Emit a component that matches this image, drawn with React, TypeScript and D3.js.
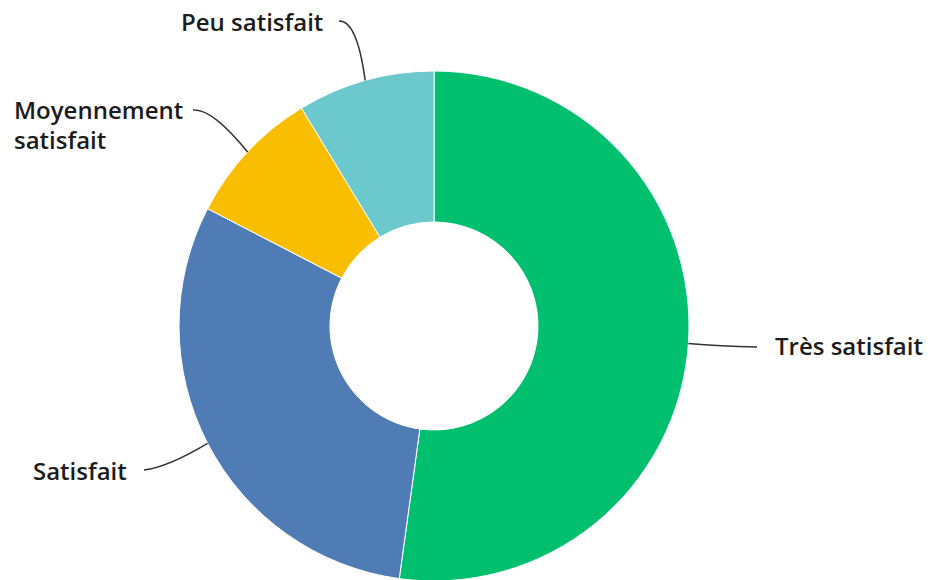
import * as d3 from 'd3'

const categories = ['Très satisfait', 'Satisfait', 'Moyennement satisfait', 'Peu satisfait']
const values = [12, 7, 2, 2]
const colors = ['#00BF6F', '#507CB6', '#F9BE00', '#6BC8CD']
// label lines (split for wrapping)
const labelLines = [['Très satisfait'], ['Satisfait'], ['Moyennement', 'satisfait'], ['Peu satisfait']]

const W = 932
const H = 580
const cx = 434
const cy = 326
const outerR = 255
const innerR = 104

// where each label sits and where its leader line ends
const labelPos = [
  { x: 775, y: 355, anchor: 'start', lx: 757, ly: 347, qx: 720, qy: 346 },
  { x: 33, y: 480, anchor: 'start', lx: 144, ly: 470, qx: 168, qy: 467 },
  { x: 14, y: 119, anchor: 'start', lx: 193, ly: 110, qx: 212, qy: 108 },
  { x: 181, y: 31, anchor: 'start', lx: 339, ly: 21, qx: 357, qy: 20 },
]

interface Slice {
  name: string
  value: number
  i: number
}

const App = () => {
  const data: Slice[] = categories.map((c, i) => ({ name: c, value: values[i], i }))
  const pie = d3
    .pie<Slice>()
    .value((d) => d.value)
    .sort(null)
  const arcs = pie(data)
  const arc = d3.arc<d3.PieArcDatum<Slice>>().innerRadius(innerR).outerRadius(outerR)
  const edge = d3.arc<d3.PieArcDatum<Slice>>().innerRadius(outerR).outerRadius(outerR)

  return (
    <svg width={W} height={H} style={{ position: 'absolute', left: 0, top: 0 }}>
      <g transform={`translate(${cx},${cy})`}>
        {arcs.map((a) => (
          <path key={a.data.name} d={arc(a) || ''} fill={colors[a.data.i]} stroke="#fff" strokeWidth={1} />
        ))}
      </g>
      {arcs.map((a) => {
        const [ex, ey] = edge.centroid(a)
        const p = labelPos[a.data.i]
        const d = `M${p.lx},${p.ly} Q${p.qx},${p.qy} ${cx + ex},${cy + ey}`
        return <path key={'l' + a.data.name} d={d} fill="none" stroke="#333" strokeWidth={1.5} />
      })}
      {arcs.map((a) => {
        const p = labelPos[a.data.i]
        return (
          <text
            key={'t' + a.data.name}
            x={p.x}
            y={p.y}
            textAnchor={p.anchor}
            fontFamily="'Open Sans', sans-serif"
            fontWeight={600}
            fontSize={24}
            fill="#1c1c1c"
          >
            {labelLines[a.data.i].map((ln, k) => (
              <tspan key={k} x={p.x} dy={k === 0 ? 0 : 30}>
                {ln}
              </tspan>
            ))}
          </text>
        )
      })}
    </svg>
  )
}

export default App
